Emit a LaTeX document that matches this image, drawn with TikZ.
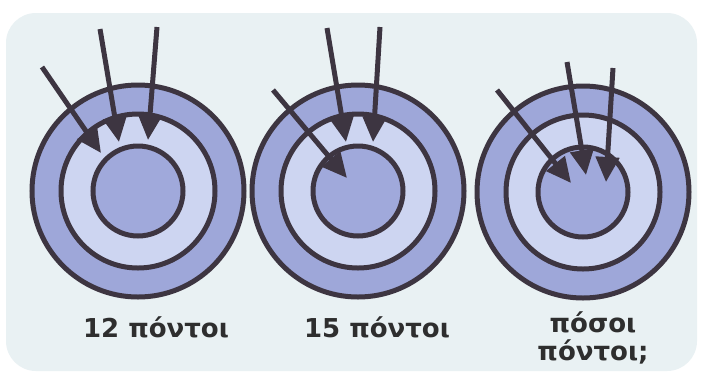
\documentclass[tikz,border=0pt]{standalone}
\usepackage{fontspec}
\setmainfont{DejaVu Sans}
\usepackage{tikz}
\usetikzlibrary{arrows.meta, positioning}
\definecolor{tpanel}{HTML}{E9F1F3}
\definecolor{touter}{HTML}{9EA7D9}
\definecolor{tmid}{HTML}{CDD5F1}
\definecolor{tinner}{HTML}{A0A9DB}
\definecolor{tline}{HTML}{3D3541}
\definecolor{ttext}{HTML}{2E2E2E}
\tikzset{
  ring/.style={circle, draw=tline, line width=5pt, inner sep=0pt},
  shot/.style={-{Triangle[length=25pt, width=23pt]}, line width=5pt, tline},
  score/.style={font=\bfseries\fontsize{26}{28}\selectfont, text=ttext, align=center},
}

\begin{document}
\begin{tikzpicture}[x=1pt, y=-1pt,
    outerring/.style={ring, fill=touter, minimum size=212pt},
    midring/.style={ring, fill=tmid, minimum size=154pt},
    innerring/.style={ring, fill=tinner, minimum size=90pt},
  ]
  \useasboundingbox (0,0) rectangle (701,373);
  \fill[white] (0,0) rectangle (701,373);
  % Panel
  \fill[tpanel, rounded corners=30pt] (6,13) rectangle (697,371);

  % Three targets
  \foreach \n/\cx/\cy in {1/138/191, 2/358/191, 3/583/192} {
    \node[outerring] (out\n) at (\cx,\cy) {};
    \node[midring] (mid\n) at (\cx,\cy) {};
    \node[innerring] (in\n) at (\cx,\cy) {};
  }

  % Arrow ends
  \coordinate (a1s) at (42,67);   \coordinate (a1e) at (101,153);
  \coordinate (b1s) at (100,29);  \coordinate (b1e) at (119,142);
  \coordinate (c1s) at (157,27);  \coordinate (c1e) at (148,140);
  \coordinate (a2s) at (273,90);  \coordinate (a2e) at (347,178);
  \coordinate (b2s) at (327,28);  \coordinate (b2e) at (346,142);
  \coordinate (c2s) at (380,27);  \coordinate (c2e) at (373,142);
  \coordinate (a3s) at (497,90);  \coordinate (a3e) at (571,183);
  \coordinate (b3s) at (567,62);  \coordinate (b3e) at (586,175);
  \coordinate (c3s) at (613,68);  \coordinate (c3e) at (606,182);

  \foreach \n in {1,2,3} {
    \draw[shot] (a\n s) -- (a\n e);
    \draw[shot] (b\n s) -- (b\n e);
    \draw[shot] (c\n s) -- (c\n e);
  }

  % Scores
  \node[score] (s1) at (156,327) {12 πόντοι};
  \node[score] (s2) at (377,327) {15 πόντοι};
  \node[score] (s3) at (593,338) {πόσοι\\πόντοι;};
\end{tikzpicture}
\end{document}
